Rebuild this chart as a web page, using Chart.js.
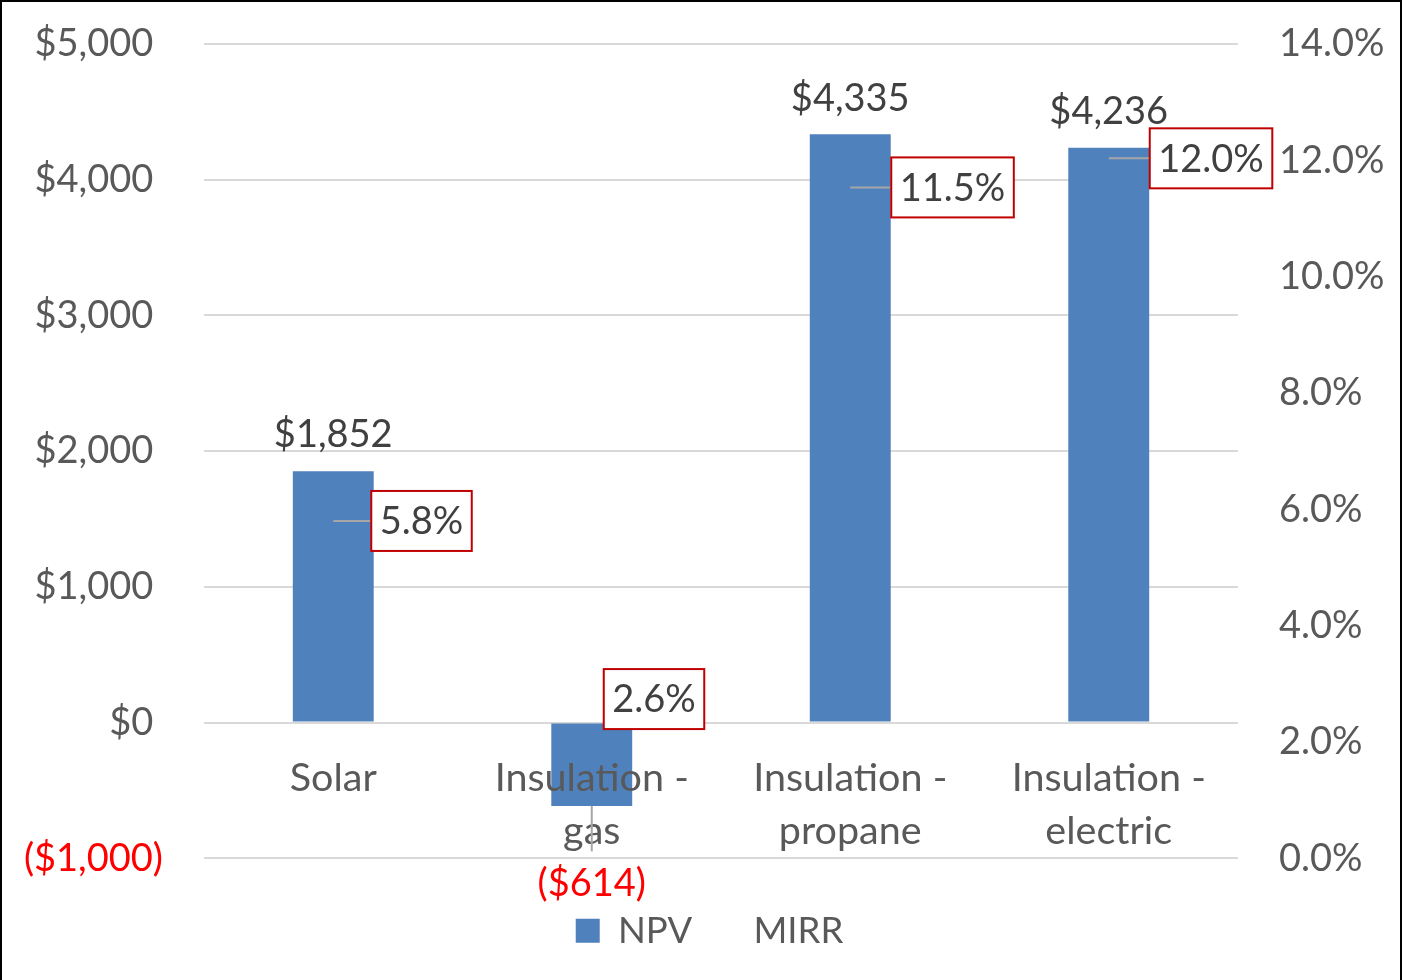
<!DOCTYPE html>
<html>
<head>
<meta charset="utf-8">
<script src="https://cdn.jsdelivr.net/npm/chart.js@4"></script>
<style>
  html, body { margin: 0; padding: 0; background: #fff; }
  canvas { display: block; }
</style>
</head>
<body>
<canvas id="chart" width="1403" height="980"></canvas>
<script>
const categories = ['Solar', 'Insulation - gas', 'Insulation - propane', 'Insulation - electric'];
const npv = [1852, -614, 4335, 4236];
const mirr = [5.8, 2.6, 11.5, 12.0];
const npvTicks = [-1000, 0, 1000, 2000, 3000, 4000, 5000];
const mirrTicks = [0, 2, 4, 6, 8, 10, 12, 14];

const FAMILY = 'Lato, "Open Sans", sans-serif';
const SIZE = 38;
const GREY = '#595959';
const DARK = '#404040';
const RED = '#FF0000';
const PAD_L = 16;

function money(v, pad) {
  const s = '$' + Math.abs(v).toLocaleString('en-US');
  if (v < 0) return '(' + s + ')';
  return pad ? s + ' ' : s;
}

function wrap(c) {
  const parts = c.split(' - ');
  return parts.length > 1 ? [parts[0] + ' -', parts[1]] : c;
}

// box offsets for the MIRR labels (px from the point)
const boxDx = [38, 12, 41, 41];
const boxDy = [0, -8, -2, -2];

const labelPlugin = {
  id: 'valueLabels',
  afterDraw(chart) {
    const ctx = chart.ctx;
    const area = chart.chartArea;
    const bars = chart.getDatasetMeta(0).data;
    const pts = chart.getDatasetMeta(1).data;
    ctx.save();
    ctx.font = SIZE + 'px ' + FAMILY;
    ctx.textAlign = 'center';
    ctx.textBaseline = 'middle';

    bars.forEach((bar, i) => {
      const v = npv[i];
      if (v >= 0) {
        ctx.fillStyle = DARK;
        ctx.fillText(money(v), bar.x, bar.y - 36);
      } else {
        ctx.fillStyle = RED;
        ctx.fillText(money(v), bar.x, bar.y + 78);
      }
    });

    pts.forEach((p, i) => {
      const text = mirr[i].toFixed(1) + '%';
      const w = ctx.measureText(text).width + 17;
      const h = 60;
      const left = p.x + boxDx[i];
      const cy = p.y + boxDy[i];
      ctx.strokeStyle = '#A6A6A6';
      ctx.lineWidth = 2;
      ctx.beginPath();
      if (i === 1) {
        ctx.moveTo(p.x, bars[i].y);
        ctx.lineTo(p.x, area.bottom - 7);
      } else {
        ctx.moveTo(p.x, cy);
        ctx.lineTo(left, cy);
      }
      ctx.stroke();
      ctx.fillStyle = '#fff';
      ctx.fillRect(left, cy - h / 2, w, h);
      ctx.strokeStyle = '#C00000';
      ctx.lineWidth = 2;
      ctx.strokeRect(left, cy - h / 2, w, h);
      ctx.fillStyle = DARK;
      ctx.fillText(text, left + w / 2, cy + 1);
    });

    // outer frame
    ctx.strokeStyle = '#000';
    ctx.lineWidth = 2;
    ctx.beginPath();
    ctx.moveTo(1, chart.height);
    ctx.lineTo(1, 1);
    ctx.lineTo(chart.width - 2, 1);
    ctx.lineTo(chart.width - 2, chart.height);
    ctx.stroke();
    ctx.restore();
  }
};

const font = { family: FAMILY, size: SIZE };

new Chart(document.getElementById('chart'), {
  type: 'bar',
  data: {
    labels: categories.map(wrap),
    datasets: [
      {
        label: 'NPV',
        data: npv,
        backgroundColor: '#4F81BD',
        categoryPercentage: 1,
        barPercentage: 0.313,
        yAxisID: 'y'
      },
      {
        type: 'line',
        label: 'MIRR',
        data: mirr,
        yAxisID: 'y1',
        showLine: false,
        pointRadius: 0,
        borderColor: 'rgba(0,0,0,0)',
        backgroundColor: 'rgba(0,0,0,0)',
        borderWidth: 0
      }
    ]
  },
  options: {
    responsive: false,
    animation: false,
    layout: { padding: { top: 44, left: PAD_L, right: 0, bottom: 21 } },
    plugins: {
      tooltip: { enabled: false },
      legend: {
        position: 'bottom',
        title: { display: true, text: '', font: { size: 1 }, padding: { top: 34, bottom: 0 } },
        labels: { color: GREY, font: { family: FAMILY, size: 36.5 }, boxWidth: 24, boxHeight: 24, padding: 19 }
      }
    },
    scales: {
      x: {
        position: { y: 0 },
        grid: { display: false },
        border: { display: false },
        ticks: {
          z: 1,
          color: GREY,
          font: { family: FAMILY, size: 39.5, lineHeight: 1.32 },
          padding: 22,
          maxRotation: 0,
          autoSkip: false
        }
      },
      y: {
        position: 'left',
        min: -1000,
        max: 5000,
        afterBuildTicks: s => { s.ticks = npvTicks.map(v => ({ value: v })); },
        afterFit: s => { s.width = 204 - PAD_L; s.paddingTop = 0; s.paddingBottom = 0; },
        grid: { color: '#D9D9D9', lineWidth: 2, drawTicks: false },
        border: { display: false },
        ticks: {
          padding: 41,
          font,
          color: c => (c.tick && c.tick.value < 0 ? RED : GREY),
          callback: v => money(v, true)
        }
      },
      y1: {
        position: 'right',
        min: 0,
        max: 14,
        afterBuildTicks: s => { s.ticks = mirrTicks.map(v => ({ value: v })); },
        afterFit: s => { s.width = 1403 - 1238; s.paddingTop = 0; s.paddingBottom = 0; },
        grid: { drawOnChartArea: false, drawTicks: false },
        border: { display: false },
        ticks: {
          padding: 41,
          font,
          color: GREY,
          callback: v => v.toFixed(1) + '%'
        }
      }
    }
  },
  plugins: [labelPlugin]
});
</script>
</body>
</html>
